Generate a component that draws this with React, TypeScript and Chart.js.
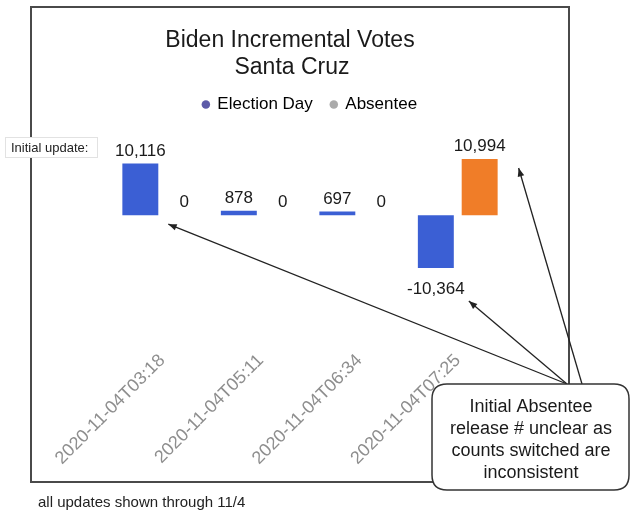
import React, { useEffect, useRef } from "react";
import { Chart, registerables } from "chart.js";

Chart.register(...registerables);

const categories = ["2020-11-04T03:18", "2020-11-04T05:11", "2020-11-04T06:34", "2020-11-04T07:25"];
const electionDay = [10116, 878, 697, -10364];
const absentee = [0, 0, 0, 10994];
const seriesNames = ["Election Day", "Absentee"];
const seriesColors = ["#3b5fd4", "#f07d28"];
const legendColors = ["#5c5aa8", "#aaaaaa"];
const titleLines = ["Biden Incremental Votes", "Santa Cruz"];
const calloutLines = ["Initial Absentee", "release # unclear as", "counts switched are", "inconsistent"];
const initialUpdateLabel = "Initial update:";
const footnote = "all updates shown through 11/4";
const yMin = -25240;
const yMax = 18060;

const FONT = "'Liberation Sans', Arial, sans-serif";

function drawArrow(ctx: CanvasRenderingContext2D, x1: number, y1: number, x2: number, y2: number) {
  ctx.save();
  ctx.strokeStyle = "#222";
  ctx.fillStyle = "#222";
  ctx.lineWidth = 1.3;
  ctx.beginPath();
  ctx.moveTo(x1, y1);
  ctx.lineTo(x2, y2);
  ctx.stroke();
  const a = Math.atan2(y2 - y1, x2 - x1);
  const L = 9;
  const w = 0.38;
  ctx.beginPath();
  ctx.moveTo(x2, y2);
  ctx.lineTo(x2 - L * Math.cos(a - w), y2 - L * Math.sin(a - w));
  ctx.lineTo(x2 - L * Math.cos(a + w), y2 - L * Math.sin(a + w));
  ctx.closePath();
  ctx.fill();
  ctx.restore();
}

function roundRect(ctx: CanvasRenderingContext2D, x: number, y: number, w: number, h: number, r: number) {
  ctx.beginPath();
  ctx.moveTo(x + r, y);
  ctx.lineTo(x + w - r, y);
  ctx.quadraticCurveTo(x + w, y, x + w, y + r);
  ctx.lineTo(x + w, y + h - r);
  ctx.quadraticCurveTo(x + w, y + h, x + w - r, y + h);
  ctx.lineTo(x + r, y + h);
  ctx.quadraticCurveTo(x, y + h, x, y + h - r);
  ctx.lineTo(x, y + r);
  ctx.quadraticCurveTo(x, y, x + r, y);
  ctx.closePath();
}

const decorPlugin = {
  id: "decor",
  beforeDraw(chart: any) {
    const ctx: CanvasRenderingContext2D = chart.ctx;
    ctx.save();
    ctx.fillStyle = "#ffffff";
    ctx.fillRect(0, 0, chart.width, chart.height);
    ctx.strokeStyle = "#4a4a4a";
    ctx.lineWidth = 2;
    ctx.strokeRect(31, 7, 538, 475);
    ctx.fillStyle = "#1a1a1a";
    ctx.font = `23px ${FONT}`;
    ctx.textAlign = "center";
    ctx.textBaseline = "middle";
    ctx.fillText(titleLines[0], 290, 41);
    ctx.fillText(titleLines[1], 292, 68);
    ctx.restore();
  },
  afterDatasetsDraw(chart: any) {
    const ctx: CanvasRenderingContext2D = chart.ctx;
    ctx.save();
    ctx.fillStyle = "#1a1a1a";
    ctx.font = `17px ${FONT}`;
    ctx.textAlign = "center";
    ctx.textBaseline = "alphabetic";
    chart.data.datasets.forEach((ds: any, di: number) => {
      const meta = chart.getDatasetMeta(di);
      meta.data.forEach((el: any, i: number) => {
        const v = ds.data[i];
        const txt = v.toLocaleString("en-US");
        if (v < 0) {
          ctx.fillText(txt, el.x, el.y + 26);
        } else {
          ctx.fillText(txt, el.x, el.y - 8);
        }
      });
    });
    ctx.restore();
  },
  afterDraw(chart: any) {
    const ctx: CanvasRenderingContext2D = chart.ctx;
    const ed = chart.getDatasetMeta(0).data;
    const ab = chart.getDatasetMeta(1).data;
    ctx.save();
    // Initial update label box
    ctx.fillStyle = "#ffffff";
    ctx.fillRect(5, 137, 93, 21);
    ctx.strokeStyle = "#e2e2e2";
    ctx.lineWidth = 1;
    ctx.strokeRect(5.5, 137.5, 92, 20);
    ctx.fillStyle = "#222";
    ctx.font = `13px ${FONT}`;
    ctx.textAlign = "left";
    ctx.textBaseline = "middle";
    ctx.fillText(initialUpdateLabel, 11, 148);

    // arrows
    const b0 = ed[0];
    const b3 = ed[3];
    const o3 = ab[3];
    drawArrow(ctx, 567, 384, b0.x + b0.width / 2 + 10, b0.base + 9);
    drawArrow(ctx, 567, 384, b3.x + 33, b3.y + 33);
    drawArrow(ctx, 582, 384, o3.x + o3.width / 2 + 21, o3.y + 9);

    // callout
    roundRect(ctx, 432, 384, 197, 106, 15);
    ctx.fillStyle = "#ffffff";
    ctx.fill();
    ctx.strokeStyle = "#333";
    ctx.lineWidth = 1.5;
    ctx.stroke();
    ctx.fillStyle = "#1a1a1a";
    ctx.font = `18px ${FONT}`;
    ctx.textAlign = "center";
    ctx.textBaseline = "middle";
    const ys = [407, 429, 451, 473];
    calloutLines.forEach((t, i) => ctx.fillText(t, 531, ys[i]));

    // footnote
    ctx.fillStyle = "#222";
    ctx.font = `15px ${FONT}`;
    ctx.textAlign = "left";
    ctx.fillText(footnote, 38, 503);
    ctx.restore();
  },
};

export default function App() {
  const ref = useRef<HTMLCanvasElement | null>(null);
  useEffect(() => {
    if (!ref.current) return;
    const chart = new Chart(ref.current, {
      type: "bar",
      data: {
        labels: categories,
        datasets: [
          {
            label: seriesNames[0],
            data: electionDay,
            backgroundColor: seriesColors[0],
            barPercentage: 0.82,
            categoryPercentage: 0.89,
          },
          {
            label: seriesNames[1],
            data: absentee,
            backgroundColor: seriesColors[1],
            barPercentage: 0.82,
            categoryPercentage: 0.89,
          },
        ],
      },
      options: {
        responsive: false,
        animation: false,
        devicePixelRatio: 1,
        layout: { padding: { left: 113, right: 124, top: 78, bottom: 42 } },
        plugins: {
          title: { display: false },
          tooltip: { enabled: false },
          legend: {
            display: true,
            position: "top",
            labels: {
              usePointStyle: true,
              pointStyle: "circle",
              boxWidth: 6,
              boxHeight: 6,
              padding: 18,
              color: "#1a1a1a",
              font: { size: 17, family: FONT },
              generateLabels: () =>
                seriesNames.map((n, i) => ({
                  text: n,
                  fillStyle: legendColors[i],
                  strokeStyle: legendColors[i],
                  lineWidth: 0,
                  pointStyle: "circle",
                  hidden: false,
                  datasetIndex: i,
                })),
            },
          },
        },
        scales: {
          x: {
            grid: { display: false, drawTicks: false },
            border: { display: false },
            ticks: {
              autoSkip: false,
              minRotation: 45,
              maxRotation: 45,
              padding: 6,
              color: "#8e8e8e",
              font: { size: 18, family: FONT },
            },
          },
          y: {
            display: false,
            min: yMin,
            max: yMax,
          },
        },
      },
      plugins: [decorPlugin],
    });
    return () => chart.destroy();
  }, []);
  return (
    <div style={{ position: "absolute", left: 0, top: 0, width: 631, height: 517 }}>
      <canvas ref={ref} width={631} height={517} />
    </div>
  );
}
